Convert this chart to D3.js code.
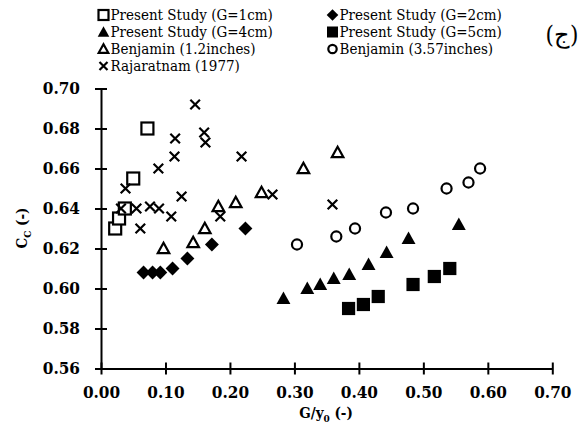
<!DOCTYPE html>
<html>
<head>
<meta charset="utf-8">
<script src="https://cdn.jsdelivr.net/npm/d3@7"></script>
<style>
  body { margin: 0; background: #fff; }
</style>
</head>
<body>
<svg id="chart" width="586" height="445"></svg>
<script>
// data
const g1cm = [[0.022, 0.630], [0.028, 0.635], [0.037, 0.640], [0.050, 0.655], [0.072, 0.680]];
const g2cm = [[0.066, 0.608], [0.080, 0.608], [0.092, 0.608], [0.111, 0.610], [0.134, 0.615], [0.172, 0.622], [0.224, 0.630]];
const g4cm = [[0.283, 0.595], [0.320, 0.600], [0.340, 0.602], [0.361, 0.605], [0.385, 0.607], [0.415, 0.612], [0.443, 0.618], [0.477, 0.625], [0.555, 0.632]];
const g5cm = [[0.384, 0.590], [0.407, 0.592], [0.430, 0.596], [0.484, 0.602], [0.517, 0.606], [0.541, 0.610]];
const benj12 = [[0.097, 0.620], [0.143, 0.623], [0.161, 0.630], [0.182, 0.641], [0.209, 0.643], [0.249, 0.648], [0.314, 0.660], [0.367, 0.668]];
const benj357 = [[0.304, 0.622], [0.365, 0.626], [0.394, 0.630], [0.442, 0.638], [0.484, 0.640], [0.536, 0.650], [0.570, 0.653], [0.588, 0.660]];
const rajaratnam = [[0.146, 0.692], [0.160, 0.678], [0.162, 0.673], [0.115, 0.675], [0.114, 0.666], [0.218, 0.666],
  [0.089, 0.660], [0.038, 0.650], [0.125, 0.646], [0.031, 0.640], [0.055, 0.640], [0.076, 0.641], [0.090, 0.640],
  [0.109, 0.636], [0.185, 0.636], [0.061, 0.630], [0.266, 0.647], [0.359, 0.642]];

const xTicks = [0, 0.1, 0.2, 0.3, 0.4, 0.5, 0.6, 0.7];
const yTicks = [0.56, 0.58, 0.60, 0.62, 0.64, 0.66, 0.68, 0.70];

const series = [
  { name: "Present Study (G=1cm)", shape: "square", fill: false, data: g1cm },
  { name: "Present Study (G=2cm)", shape: "diamond", fill: true, data: g2cm },
  { name: "Present Study (G=4cm)", shape: "triangle", fill: true, data: g4cm },
  { name: "Present Study (G=5cm)", shape: "square", fill: true, data: g5cm },
  { name: "Benjamin (1.2inches)", shape: "triangle", fill: false, data: benj12 },
  { name: "Benjamin (3.57inches)", shape: "circle", fill: false, data: benj357 },
  { name: "Rajaratnam (1977)", shape: "cross", fill: false, data: rajaratnam }
];

const FONT = "DejaVu Serif Condensed, DejaVu Serif";

const svg = d3.select("#chart")
  .attr("font-family", FONT)
  .attr("font-stretch", "condensed");

const x = d3.scaleLinear().domain([0, 0.7]).range([101, 552.3]);
const y = d3.scaleLinear().domain([0.56, 0.70]).range([368.5, 88.5]);

function marker(g, shape, fill, cx, cy, s) {
  const sw = 2.2;
  if (shape === "square") {
    const h = fill ? s * 0.55 : s * 0.5;
    g.append("rect")
      .attr("x", cx - h).attr("y", cy - h)
      .attr("width", 2 * h).attr("height", 2 * h)
      .attr("fill", fill ? "#000" : "#fff")
      .attr("stroke", "#000").attr("stroke-width", fill ? 0 : sw);
  } else if (shape === "diamond") {
    const h = s * 0.58;
    g.append("path")
      .attr("d", `M${cx},${cy - h}L${cx + h},${cy}L${cx},${cy + h}L${cx - h},${cy}Z`)
      .attr("fill", "#000");
  } else if (shape === "triangle") {
    const h = fill ? s * 0.58 : s * 0.48;
    g.append("path")
      .attr("d", `M${cx},${cy - h}L${cx + h},${cy + h * 0.8}L${cx - h},${cy + h * 0.8}Z`)
      .attr("fill", fill ? "#000" : "none")
      .attr("stroke", "#000").attr("stroke-width", fill ? 0 : sw);
  } else if (shape === "circle") {
    g.append("circle")
      .attr("cx", cx).attr("cy", cy).attr("r", s * 0.42)
      .attr("fill", "none")
      .attr("stroke", "#000").attr("stroke-width", sw);
  } else if (shape === "cross") {
    const h = s * 0.4;
    g.append("path")
      .attr("d", `M${cx - h},${cy - h}L${cx + h},${cy + h}M${cx - h},${cy + h}L${cx + h},${cy - h}`)
      .attr("stroke", "#000").attr("stroke-width", sw);
  }
}

// axes
const xAxis = svg.append("g")
  .attr("transform", `translate(0,${y(0.56)})`)
  .call(d3.axisBottom(x).tickValues(xTicks).tickFormat(d3.format(".2f")).tickSize(0).tickPadding(17));

const yAxis = svg.append("g")
  .attr("transform", `translate(${x(0)},0)`)
  .call(d3.axisLeft(y).tickValues(yTicks).tickFormat(d3.format(".2f")).tickSize(0).tickPadding(21));

[xAxis, yAxis].forEach(a => {
  a.attr("font-family", FONT).attr("font-size", 17).attr("font-weight", "bold");
  a.select(".domain").attr("stroke", "#000").attr("stroke-width", 2);
  a.selectAll("text").attr("fill", "#000");
});

xAxis.selectAll(".tick line").attr("y1", -6).attr("y2", 6).attr("stroke", "#000").attr("stroke-width", 2);
yAxis.selectAll(".tick line").attr("x1", -6).attr("x2", 6).attr("stroke", "#000").attr("stroke-width", 2);

// axis titles
const xt = svg.append("text")
  .attr("x", 326).attr("y", 418)
  .attr("text-anchor", "middle")
  .attr("font-size", 15).attr("font-weight", "bold");
xt.append("tspan").text("G/y");
xt.append("tspan").attr("dy", 4).attr("font-size", 10).text("0");
xt.append("tspan").attr("dy", -4).text(" (-)");

const yt = svg.append("text")
  .attr("transform", "translate(27,228) rotate(-90)")
  .attr("text-anchor", "middle")
  .attr("font-size", 15).attr("font-weight", "bold");
yt.append("tspan").text("C");
yt.append("tspan").attr("dy", 4).attr("font-size", 10).text("C");
yt.append("tspan").attr("dy", -4).text(" (-)");

// points
const pts = svg.append("g");
series.forEach(s => {
  s.data.forEach(d => marker(pts, s.shape, s.fill, x(d[0]), y(d[1]), 12));
});

// legend
const leg = svg.append("g");
series.forEach((s, i) => {
  const col = i === 6 ? 0 : i % 2;
  const row = Math.floor(i / 2);
  const lx = col === 0 ? 103.5 : 332.5;
  const ly = 15 + row * 17;
  marker(leg, s.shape, s.fill, lx, ly, 10);
  leg.append("text")
    .attr("x", lx + 7).attr("y", ly + 5)
    .attr("font-size", 15)
    .text(s.name);
});

svg.append("text")
  .attr("x", 562).attr("y", 43)
  .attr("text-anchor", "middle")
  .attr("font-size", 24)
  .text("(ج)");
</script>
</body>
</html>
